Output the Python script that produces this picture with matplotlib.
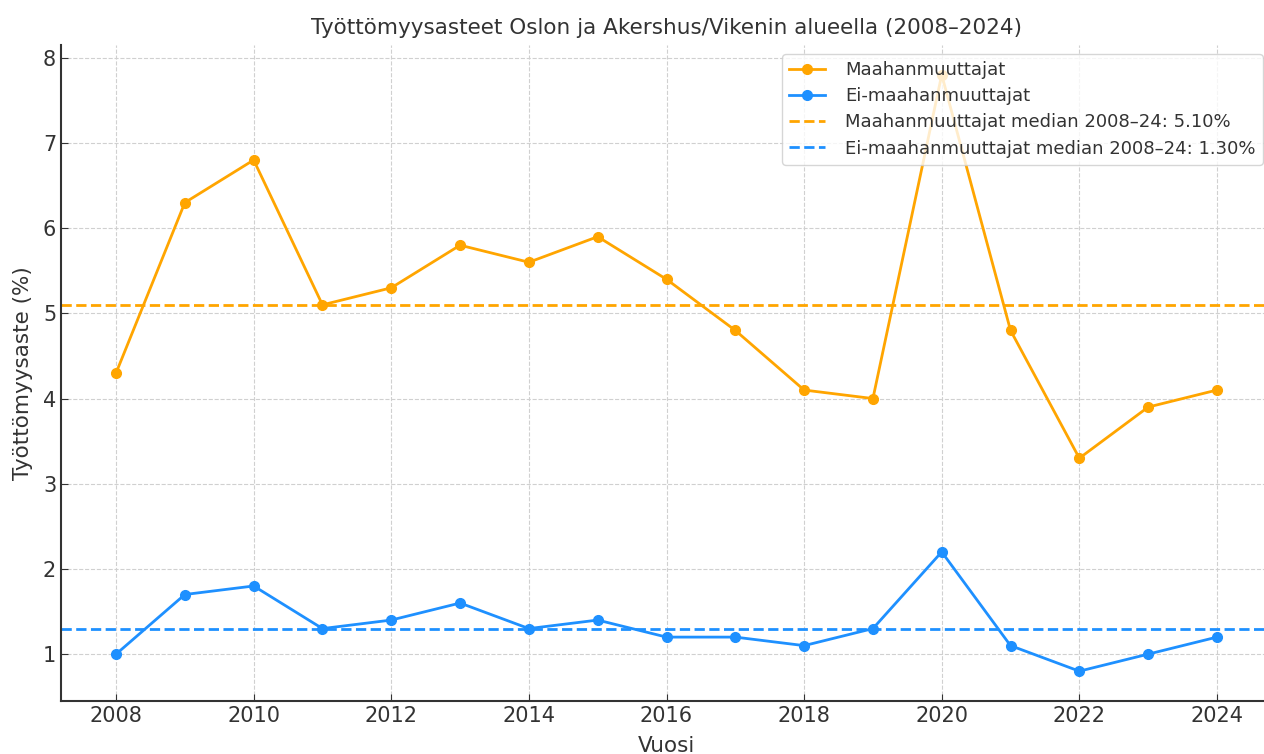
import matplotlib.pyplot as plt

years = list(range(2008, 2025))
immigrants = [4.3, 6.3, 6.8, 5.1, 5.3, 5.8, 5.6, 5.9, 5.4, 4.8, 4.1, 4.0, 7.8, 4.8, 3.3, 3.9, 4.1]
non_immigrants = [1.0, 1.7, 1.8, 1.3, 1.4, 1.6, 1.3, 1.4, 1.2, 1.2, 1.1, 1.3, 2.2, 1.1, 0.8, 1.0, 1.2]
median_imm = 5.10
median_non = 1.30

orange = '#FFA500'
blue = '#1E90FF'
text_col = '#333333'

plt.rcParams['text.color'] = text_col
plt.rcParams['axes.labelcolor'] = text_col
plt.rcParams['xtick.color'] = text_col
plt.rcParams['ytick.color'] = text_col

W, H = 1264, 754
fig = plt.figure(figsize=(W / 100, H / 100), dpi=100)
# axes box in pixels (right edge runs a bit past the figure, like the cropped original)
ax = fig.add_axes([61 / W, (H - 701) / H, (1272 - 61) / W, (701 - 45) / H])

ax.plot(years, immigrants, marker='o', color=orange, linewidth=2, markersize=7, label='Maahanmuuttajat')
ax.plot(years, non_immigrants, marker='o', color=blue, linewidth=2, markersize=7, label='Ei-maahanmuuttajat')
ax.axhline(median_imm, color=orange, linestyle='--', linewidth=2,
           label=f'Maahanmuuttajat median 2008–24: {median_imm:.2f}%')
ax.axhline(median_non, color=blue, linestyle='--', linewidth=2,
           label=f'Ei-maahanmuuttajat median 2008–24: {median_non:.2f}%')

ax.set_title('Työttömyysasteet Oslon ja Akershus/Vikenin alueella (2008–2024)', fontsize=15.5,
             color=text_col, pad=8)
ax.set_xlabel('Vuosi', fontsize=15.5, labelpad=7)
ax.set_ylabel('Työttömyysaste (%)', fontsize=15.5, labelpad=7)
ax.set_xticks(range(2008, 2025, 2))
ax.tick_params(labelsize=15, direction='in', length=5)
ax.grid(True, linestyle='--', color='#d0d0d0', linewidth=0.8)
ax.set_axisbelow(True)
for s in ['top', 'right']:
    ax.spines[s].set_visible(False)
for s in ['left', 'bottom']:
    ax.spines[s].set_color(text_col)
    ax.spines[s].set_linewidth(1.5)

ax.legend(loc='upper right', bbox_to_anchor=(1263 / W, (H - 54) / H), bbox_transform=fig.transFigure,
          fontsize=13, framealpha=0.8, borderaxespad=0, handletextpad=1.1, labelspacing=0.45)

fig.savefig('out.png')
